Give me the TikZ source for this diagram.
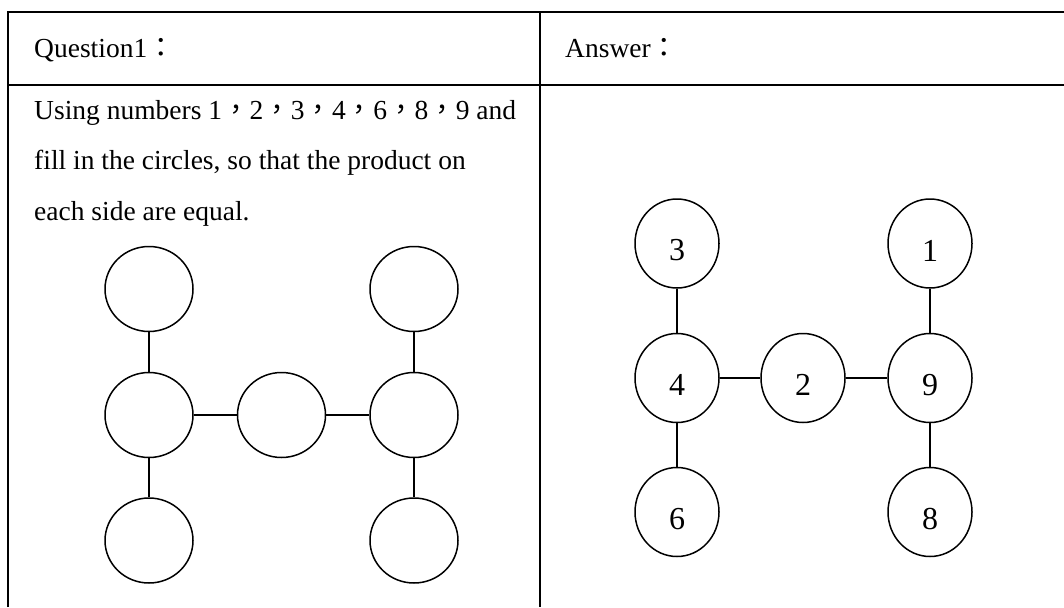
\documentclass[tikz,border=0pt]{standalone}
\usepackage{fontspec}
\setmainfont{Liberation Serif}
\newfontfamily\cjk{Noto Sans CJK TC}
\usetikzlibrary{shapes.geometric}
\begin{document}
\begin{tikzpicture}[x=1pt,y=-1pt,
  grid/.style={line width=2pt},
  txt/.style={anchor=base west, inner sep=0pt, font=\fontsize{27.5}{32}\selectfont},
  lc/.style={draw, ellipse, line width=1.5pt, inner sep=0pt, minimum width=88pt, minimum height=85pt},
  rc/.style={draw, ellipse, line width=1.5pt, inner sep=0pt, minimum width=84pt, minimum height=89pt},
  num/.style={font=\fontsize{32}{36}\selectfont, yshift=-7pt, inner sep=0pt},
  link/.style={line width=1.5pt}]
\useasboundingbox (0,0) rectangle (1064,607);
\fill[white] (0,0) rectangle (1064,607);
% table
\draw[grid] (7.5,607) -- (7.5,12) -- (1064,12);
\draw[grid] (7.5,85) -- (1064,85);
\draw[grid] (540,12) -- (540,607);
% texts
\node[txt] (qh) at (34,58) {Question1{\cjk ：}};
\node[txt] (ah) at (565,58) {Answer{\cjk ：}};
\node[txt] (q1) at (34,119) {Using numbers 1{\cjk ，}2{\cjk ，}3{\cjk ，}4{\cjk ，}6{\cjk ，}8{\cjk ，}9 and};
\node[txt] (q2) at (34,169) {fill in the circles, so that the product on};
\node[txt] (q3) at (34,220) {each side are equal.};
% left empty diagram
\node[lc] (la) at (149,289) {};
\node[lc] (lb) at (149,415) {};
\node[lc] (lc1) at (149,540.5) {};
\node[lc] (lm) at (281.5,415) {};
\node[lc] (ra) at (414,289) {};
\node[lc] (rb) at (414,415) {};
\node[lc] (rc1) at (414,540.5) {};
\draw[link] (la) -- (lb);
\draw[link] (lb) -- (lc1);
\draw[link] (lb) -- (lm);
\draw[link] (lm) -- (rb);
\draw[link] (ra) -- (rb);
\draw[link] (rb) -- (rc1);
% answer diagram
\node[rc, label={[num]center:3}] (n3) at (677,243.5) {};
\node[rc, label={[num]center:4}] (n4) at (677,378) {};
\node[rc, label={[num]center:6}] (n6) at (677,512) {};
\node[rc, label={[num]center:2}] (n2) at (803,378) {};
\node[rc, label={[num]center:1}] (n1) at (930,243.5) {};
\node[rc, label={[num]center:9}] (n9) at (930,378) {};
\node[rc, label={[num]center:8}] (n8) at (930,512) {};
\draw[link] (n3) -- (n4);
\draw[link] (n4) -- (n6);
\draw[link] (n4) -- (n2);
\draw[link] (n2) -- (n9);
\draw[link] (n1) -- (n9);
\draw[link] (n9) -- (n8);
\end{tikzpicture}
\end{document}
